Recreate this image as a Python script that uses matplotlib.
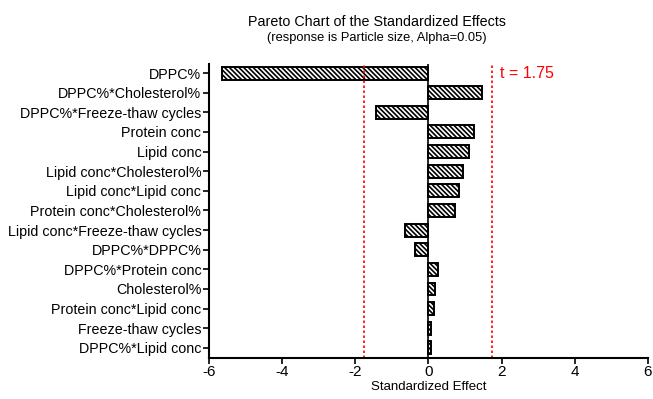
import matplotlib.pyplot as plt

plt.rcParams['font.family'] = ['Liberation Sans', 'DejaVu Sans']
plt.rcParams['hatch.linewidth'] = 1.2

terms = ["DPPC%", "DPPC%*Cholesterol%", "DPPC%*Freeze-thaw cycles", "Protein conc",
         "Lipid conc", "Lipid conc*Cholesterol%", "Lipid conc*Lipid conc",
         "Protein conc*Cholesterol%", "Lipid conc*Freeze-thaw cycles", "DPPC%*DPPC%",
         "DPPC%*Protein conc", "Cholesterol%", "Protein conc*Lipid conc",
         "Freeze-thaw cycles", "DPPC%*Lipid conc"]
effects = [-5.65, 1.48, -1.42, 1.25, 1.11, 0.94, 0.84, 0.72, -0.64, -0.37,
           0.26, 0.19, 0.15, 0.07, 0.06]
t_crit = 1.75
x_ticks = [-6, -4, -2, 0, 2, 4, 6]

fig = plt.figure(figsize=(6.53, 3.99), dpi=100)
ax = fig.add_axes([0.320, 0.1035, 0.672, 0.736])

pos = list(range(len(terms)))
ax.barh(pos, effects, height=0.66, color="white", edgecolor="black",
        linewidth=1.4, hatch="\\" * 7)

ax.axvline(0, color="black", linewidth=1.2, zorder=3)
for v in (-t_crit, t_crit):
    ax.axvline(v, color="red", linestyle=(0, (1.5, 1.5)), linewidth=1.2)
ax.text(t_crit + 0.2, 0, "t = 1.75", color="red", fontsize=11.5, va="center")

ax.set_ylim(len(terms) - 0.5, -0.46)
ax.set_yticks(pos)
ax.set_yticklabels(terms, fontsize=10.3)
ax.set_xlim(-6, 6)
ax.set_xticks(x_ticks)
ax.set_xticklabels([str(t) for t in x_ticks], fontsize=11)
ax.set_xlabel("Standardized Effect", fontsize=9.5, labelpad=1)

for side in ("top", "right"):
    ax.spines[side].set_visible(False)
for side in ("left", "bottom"):
    ax.spines[side].set_linewidth(1.5)
ax.tick_params(axis="both", direction="out", length=4, width=1.2, pad=1.5)

fig.text(0.577, 0.945, "Pareto Chart of the Standardized Effects", ha="center",
         va="center", fontsize=10.3)
fig.text(0.577, 0.905, "(response is Particle size, Alpha=0.05)", ha="center",
         va="center", fontsize=9.3)

fig.savefig("out.png", dpi=100)
